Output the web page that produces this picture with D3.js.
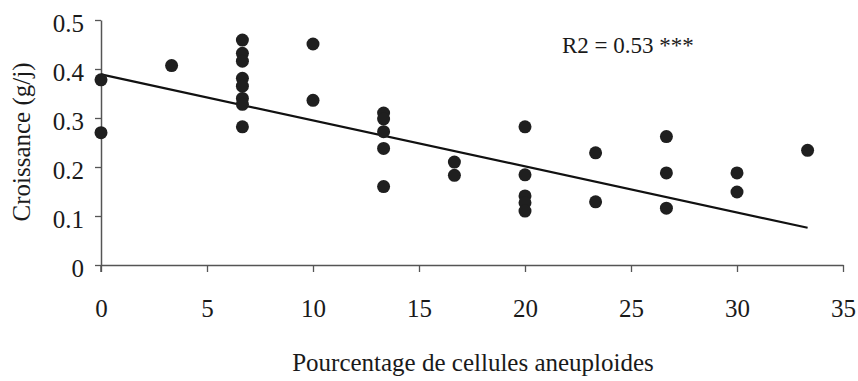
<!DOCTYPE html>
<html>
<head>
<meta charset="utf-8">
<script src="https://d3js.org/d3.v7.min.js"></script>
<style>
  body { margin: 0; background: #fff; }
  text { font-family: "Liberation Serif", "Times New Roman", serif; fill: #1a1a1a; }
</style>
</head>
<body>
<div id="chart"></div>
<script>
// percentage of aneuploid cells (x) and growth in g/day (y)
var pctAneuploid = [0, 0, 3.33,
  6.67, 6.67, 6.67, 6.67, 6.67, 6.67, 6.67, 6.67,
  10, 10,
  13.33, 13.33, 13.33, 13.33, 13.33,
  16.67, 16.67,
  20, 20, 20, 20, 20,
  23.33, 23.33,
  26.67, 26.67, 26.67,
  30, 30,
  33.33];
var croissance = [0.378, 0.27, 0.407,
  0.459, 0.432, 0.416, 0.381, 0.365, 0.34, 0.328, 0.282,
  0.451, 0.336,
  0.31, 0.298, 0.272, 0.238, 0.16,
  0.21, 0.183,
  0.282, 0.184, 0.141, 0.127, 0.11,
  0.229, 0.129,
  0.262, 0.188, 0.116,
  0.188, 0.149,
  0.234];

// fitted regression line end points
var fitX = [0, 33.33];
var fitY = [0.389, 0.076];

var xTicks = [0, 5, 10, 15, 20, 25, 30, 35];
var yTicks = [0, 0.1, 0.2, 0.3, 0.4, 0.5];
var r2Label = "R2 = 0.53 ***";

var width = 858,
  height = 381;

var x = d3.scaleLinear().domain([0, 35]).range([101, 843]);
var y = d3.scaleLinear().domain([0, 0.5]).range([265, 20]);

var svg = d3.select("#chart")
  .append("svg")
  .attr("width", width)
  .attr("height", height);

// x axis
var xAxis = svg.append("g")
  .attr("transform", "translate(0," + y(0) + ")")
  .call(d3.axisBottom(x).tickValues(xTicks).tickSize(7).tickPadding(27)
    .tickFormat(d3.format("d")).tickSizeOuter(0));

// y axis
var yAxis = svg.append("g")
  .attr("transform", "translate(" + x(0) + ",0)")
  .call(d3.axisLeft(y).tickValues(yTicks).tickSize(6).tickPadding(11)
    .tickFormat(function(d) { return d === 0 ? "0" : d3.format(".1f")(d); })
    .tickSizeOuter(0));

[xAxis, yAxis].forEach(function(g) {
  g.select(".domain").attr("stroke", "#555").attr("stroke-width", 1.5);
  g.selectAll(".tick line").attr("stroke", "#555").attr("stroke-width", 1.3);
  g.selectAll(".tick text")
    .attr("font-family", "Liberation Serif, serif")
    .attr("font-size", 25)
    .attr("fill", "#1a1a1a");
});
yAxis.selectAll(".tick text").attr("dy", "0.45em");

// y axis tail below the x axis
svg.append("line")
  .attr("x1", x(0)).attr("x2", x(0))
  .attr("y1", y(0)).attr("y2", y(0) + 7)
  .attr("stroke", "#555").attr("stroke-width", 1.5);

// regression line
svg.append("line")
  .attr("x1", x(fitX[0])).attr("y1", y(fitY[0]))
  .attr("x2", x(fitX[1])).attr("y2", y(fitY[1]))
  .attr("stroke", "#111")
  .attr("stroke-width", 2.2);

// points
svg.append("g")
  .selectAll("circle")
  .data(pctAneuploid)
  .enter().append("circle")
  .attr("cx", function(d) { return x(d); })
  .attr("cy", function(d, i) { return y(croissance[i]); })
  .attr("r", 6.5)
  .attr("fill", "#1f1f1f");

// R2 annotation
svg.append("text")
  .attr("x", 562)
  .attr("y", 53)
  .attr("font-size", 23)
  .text(r2Label);

// axis titles
svg.append("text")
  .attr("x", 473)
  .attr("y", 371)
  .attr("text-anchor", "middle")
  .attr("font-size", 25)
  .text("Pourcentage de cellules aneuploides");

svg.append("text")
  .attr("transform", "translate(30,142) rotate(-90)")
  .attr("text-anchor", "middle")
  .attr("font-size", 25)
  .text("Croissance (g/j)");
</script>
</body>
</html>
